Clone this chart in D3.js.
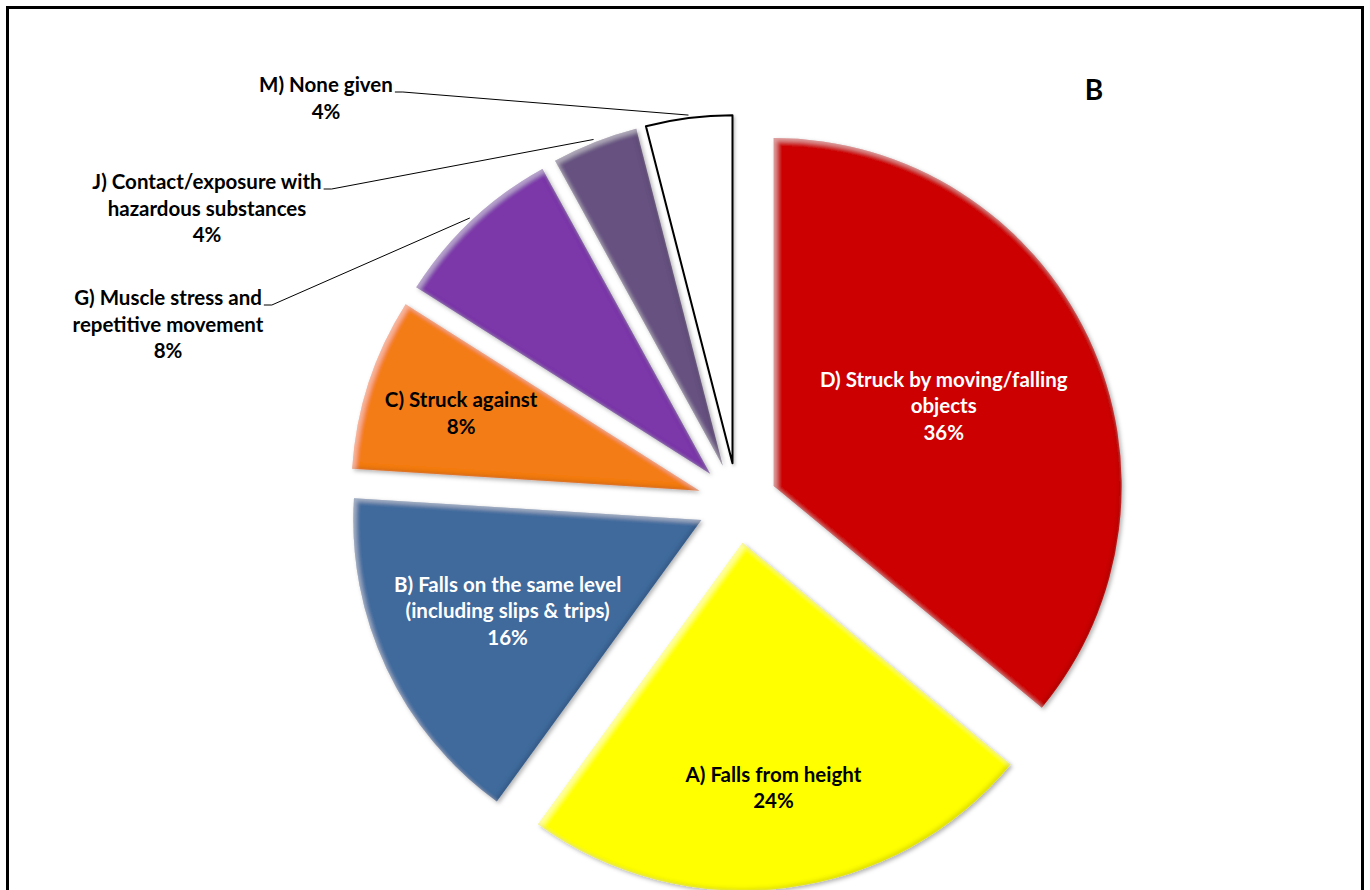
<!DOCTYPE html>
<html lang="en">
<head>
    <meta charset="UTF-8">
    <title>Exploded pie - accident kinds (B)</title>
    <style>
        body { margin: 0; background: #fff; }
        .lbl { font-family: Lato, "Open Sans", sans-serif; font-weight: 700; font-size: 20.5px; }
    </style>
</head>
<body>
    <div id="chart"></div>
    <script src="https://d3js.org/d3.v7.min.js"></script>
    <script>
        // slice data, clockwise from 12 o'clock
        const categories = ["D) Struck by moving/falling objects", "A) Falls from height",
            "B) Falls on the same level (including slips & trips)", "C) Struck against",
            "G) Muscle stress and repetitive movement", "J) Contact/exposure with hazardous substances",
            "M) None given"];
        const labelLines = [
            ["D) Struck by moving/falling", "objects"],
            ["A) Falls from height"],
            ["B) Falls on the same level", "(including slips & trips)"],
            ["C) Struck against"],
            ["G) Muscle stress and", "repetitive movement"],
            ["J) Contact/exposure with", "hazardous substances"],
            ["M) None given"]
        ];
        const percents = [36, 24, 16, 8, 8, 4, 4];
        const colors = ["#cc0000", "#ffff00", "#3f6a9c", "#f47c16", "#7b37a9", "#665180", "#ffffff"];
        const textColors = ["#fff", "#000", "#fff", "#000", "#000", "#000", "#000"];

        // label placement: inside labels at a fraction of radius, outside ones at a fixed spot
        const insideFrac = [0.54, 0.71, 0.615, 0.72, null, null, null];
        const outsidePos = [null, null, null, null, [168, 298], [207, 182], [326, 85]];

        const width = 1370, height = 890;
        const cx = 737.5, cy = 503, radius = 348, explode = 40, lineH = 26.5;

        const svg = d3.select("#chart").append("svg")
            .attr("width", width)
            .attr("height", height);

        const defs = svg.append("defs");
        const f = defs.append("filter").attr("id", "bevel")
            .attr("x", "-10%").attr("y", "-10%").attr("width", "120%").attr("height", "120%");
        f.append("feGaussianBlur").attr("in", "SourceAlpha").attr("stdDeviation", 2).attr("result", "blur");
        // dark edge bottom/right
        f.append("feOffset").attr("in", "blur").attr("dx", -2.5).attr("dy", -2.5).attr("result", "offD");
        f.append("feComposite").attr("in", "SourceAlpha").attr("in2", "offD").attr("operator", "out").attr("result", "edgeD");
        f.append("feFlood").attr("flood-color", "#000").attr("flood-opacity", 0.28).attr("result", "colD");
        f.append("feComposite").attr("in", "colD").attr("in2", "edgeD").attr("operator", "in").attr("result", "shadeD");
        // light edge top/left
        f.append("feOffset").attr("in", "blur").attr("dx", 2.5).attr("dy", 2.5).attr("result", "offL");
        f.append("feComposite").attr("in", "SourceAlpha").attr("in2", "offL").attr("operator", "out").attr("result", "edgeL");
        f.append("feFlood").attr("flood-color", "#fff").attr("flood-opacity", 0.35).attr("result", "colL");
        f.append("feComposite").attr("in", "colL").attr("in2", "edgeL").attr("operator", "in").attr("result", "shadeL");
        // outer drop shadow
        f.append("feOffset").attr("in", "blur").attr("dx", 1.5).attr("dy", 2).attr("result", "dropOff");
        f.append("feFlood").attr("flood-color", "#000").attr("flood-opacity", 0.3).attr("result", "dropCol");
        f.append("feComposite").attr("in", "dropCol").attr("in2", "dropOff").attr("operator", "in").attr("result", "drop");
        const m = f.append("feMerge");
        ["drop", "SourceGraphic", "shadeD", "shadeL"].forEach(n => m.append("feMergeNode").attr("in", n));

        // plain shadow for the white outlined slice
        defs.append("filter").attr("id", "shadow")
            .attr("x", "-10%").attr("y", "-10%").attr("width", "120%").attr("height", "120%")
            .append("feDropShadow")
            .attr("dx", 1.5).attr("dy", 2).attr("stdDeviation", 1.5)
            .attr("flood-color", "#000").attr("flood-opacity", 0.25);

        const pie = d3.pie().sort(null).value(d => d);
        const arcs = pie(percents);
        const arc = d3.arc().innerRadius(0).outerRadius(radius);

        const mid = d => (d.startAngle + d.endAngle) / 2;
        const off = (d, k) => [Math.sin(mid(d)) * k, -Math.cos(mid(d)) * k];

        const g = svg.append("g").attr("transform", `translate(${cx},${cy})`);

        g.selectAll("path.slice")
            .data(arcs)
            .join("path")
            .attr("class", "slice")
            .attr("transform", d => `translate(${off(d, explode)})`)
            .attr("d", arc)
            .attr("fill", (d, i) => colors[i])
            .attr("stroke", (d, i) => i === 6 ? "#000" : "none")
            .attr("stroke-width", 2)
            .attr("stroke-linejoin", "round")
            .attr("filter", (d, i) => i === 6 ? "url(#shadow)" : "url(#bevel)");

        // leader lines for outside labels
        const lead = svg.append("g").attr("fill", "none").attr("stroke", "#000").attr("stroke-width", 1);

        const lbl = svg.append("g").attr("class", "lbl");
        arcs.forEach((d, i) => {
            const lines = labelLines[i].concat([percents[i] + "%"]);
            let x, y0;
            if (insideFrac[i] !== null) {
                const [ox, oy] = off(d, explode + radius * insideFrac[i]);
                x = cx + ox;
                y0 = cy + oy - (lines.length - 1) * lineH / 2;
            } else {
                x = outsidePos[i][0];
                y0 = outsidePos[i][1];
            }
            const t = lbl.append("text")
                .attr("text-anchor", "middle")
                .attr("fill", textColors[i]);
            lines.forEach((s, j) => {
                t.append("tspan").attr("x", x).attr("y", y0 + j * lineH).attr("dy", "0.35em").text(s);
            });
            if (insideFrac[i] === null) {
                const first = t.select("tspan").node().getComputedTextLength();
                const sx = x + first / 2 + 2, sy = y0 + 7;
                const [ex, ey] = off(d, explode + radius + 3);
                lead.append("path")
                    .attr("d", d3.line()([[sx, sy], [sx + 8, sy], [cx + ex, cy + ey]]));
            }
        });

        svg.append("text")
            .attr("x", 1094).attr("y", 90)
            .attr("dy", "0.35em")
            .attr("text-anchor", "middle")
            .style("font-family", "Lato, sans-serif")
            .style("font-weight", 700)
            .style("font-size", "28px")
            .text("B");

        // outer frame
        svg.append("rect")
            .attr("x", 7.5).attr("y", 7.5)
            .attr("width", 1355).attr("height", 900)
            .attr("fill", "none")
            .attr("stroke", "#000")
            .attr("stroke-width", 3);
    </script>
</body>
</html>
